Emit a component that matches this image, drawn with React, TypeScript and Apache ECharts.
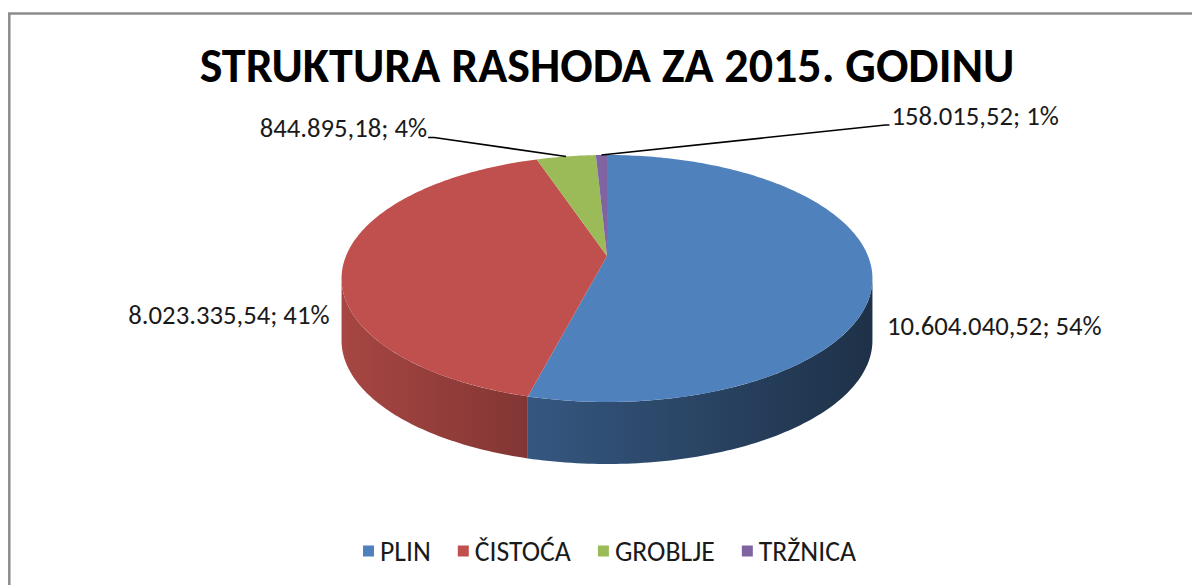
import React, { useEffect, useRef } from "react";
import * as echarts from "echarts";

const categories = ["PLIN", "ČISTOĆA", "GROBLJE", "TRŽNICA"];
const values = [10604040.52, 8023335.54, 844895.18, 158015.52];
const colors = ["#4F81BD", "#C0504D", "#9BBB59", "#8064A2"];
const titleText = "STRUKTURA RASHODA ZA 2015. GODINU";

// leader-line placement for the small slices (offset of elbow from slice edge point)
const leaderOffsets: Record<number, { dx: number; dy: number }> = {
  2: { dx: -132, dy: -19 },
  3: { dx: 284, dy: -30 },
};

const FONT = "Carlito, Calibri, Lato, 'Open Sans', sans-serif";
const LABEL_SIZE = 26.7;

// 3D projection of the pie disc (homography of the unit disc)
const CX = 607;
const R = 261;
const PA = 72.76;
const PB = 256;
const PC = -0.1822;
const DEPTH = 62;

function project(phi: number, dy = 0): [number, number] {
  const u = Math.sin(phi);
  const v = -Math.cos(phi);
  const w = 1 + PC * v;
  return [CX + (R * u) / w, (PA * v + PB) / w + dy];
}

function arc(a: number, b: number, dy = 0): number[][] {
  const n = Math.max(2, Math.ceil((b - a) / (Math.PI / 180)) + 1);
  const pts: number[][] = [];
  for (let k = 0; k < n; k++) {
    const t = a + ((b - a) * k) / (n - 1);
    pts.push(project(t, dy));
  }
  return pts;
}

function shade(hex: string, f: number): string {
  const n = parseInt(hex.slice(1), 16);
  const r = Math.round(((n >> 16) & 255) * f);
  const g = Math.round(((n >> 8) & 255) * f);
  const b = Math.round((n & 255) * f);
  return `rgb(${r},${g},${b})`;
}

function fmtNum(v: number): string {
  const [i, d] = v.toFixed(2).split(".");
  return i.replace(/\B(?=(\d{3})+(?!\d))/g, ".") + "," + d;
}

const total = values.reduce((a, b) => a + b, 0);
const cumStarts = values.map((_, i) => values.slice(0, i).reduce((a, b) => a + b, 0));

const PHI_R = Math.acos(PC); // right silhouette
const PHI_L = 2 * Math.PI - PHI_R; // left silhouette

export default function App() {
  const ref = useRef<HTMLDivElement>(null);

  useEffect(() => {
    if (!ref.current) return;
    const chart = echarts.init(ref.current, null, { renderer: "svg" });
    const leftX = project(PHI_L)[0];
    const rightX = project(PHI_R)[0];

    const renderItem = (params: any, api: any) => {
      const i = params.seriesIndex;
      const val = api.value(0);
      const start = (cumStarts[i] / total) * Math.PI * 2;
      const end = start + (val / total) * Math.PI * 2;
      const color = colors[i];
      const children: any[] = [];
      const center = [CX, PB];

      // side wall (front-facing part only)
      const a = Math.max(start, PHI_R);
      const b = Math.min(end, PHI_L);
      if (b > a) {
        const top = arc(a, b);
        const bottom = arc(a, b, DEPTH).reverse();
        children.push({
          type: "polygon",
          silent: true,
          z2: 1,
          shape: { points: top.concat(bottom) },
          style: {
            fill: new echarts.graphic.LinearGradient(
              leftX,
              0,
              rightX,
              0,
              [
                { offset: 0, color: shade(color, 0.87) },
                { offset: 0.35, color: shade(color, 0.675) },
                { offset: 1, color: shade(color, 0.38) },
              ],
              true
            ),
          },
        });
      }

      // top face
      children.push({
        type: "polygon",
        silent: true,
        z2: 5,
        shape: { points: [center].concat(arc(start, end)) },
        style: { fill: color },
      });

      // label
      const pct = Math.round((val / total) * 100);
      const text = `${fmtNum(val)}; ${pct}%`;
      const mid = (start + end) / 2;
      const lead = leaderOffsets[i];
      if (lead) {
        const p = project(mid);
        const elbow = [p[0] + lead.dx, p[1] + lead.dy];
        const right = lead.dx > 0;
        const tail = [elbow[0] + (right ? 4 : -6), elbow[1]];
        children.push({
          type: "polyline",
          silent: true,
          z2: 10,
          shape: { points: [p, elbow, tail] },
          style: { stroke: "#000", lineWidth: 1.6, fill: null },
        });
        children.push({
          type: "text",
          silent: true,
          z2: 10,
          x: tail[0] + (right ? 2 : -1),
          y: tail[1] - 9,
          style: {
            text,
            fill: "#1a1a1a",
            fontSize: LABEL_SIZE,
            fontFamily: FONT,
            align: right ? "left" : "right",
            verticalAlign: "middle",
          },
        });
      } else {
        const p = project(mid, DEPTH);
        const right = Math.sin(mid) > 0;
        children.push({
          type: "text",
          silent: true,
          z2: 10,
          x: p[0] + (right ? 15 : -15),
          y: p[1] - 7,
          style: {
            text,
            fill: "#1a1a1a",
            fontSize: LABEL_SIZE,
            fontFamily: FONT,
            align: right ? "left" : "right",
            verticalAlign: "middle",
          },
        });
      }

      return { type: "group", children };
    };

    chart.setOption({
      animation: false,
      backgroundColor: "#ffffff",
      color: colors,
      legend: {
        data: categories,
        left: 363,
        top: 537,
        padding: 0,
        icon: "rect",
        itemWidth: 11,
        itemHeight: 11,
        itemGap: 27,
        textStyle: { fontSize: 27.7, fontFamily: FONT, color: "#1a1a1a", padding: [0, 0, 0, 1] },
        selectedMode: false,
      },
      graphic: [
        {
          type: "rect",
          silent: true,
          shape: { x: 9.3, y: 13.5, width: 1400, height: 800 },
          style: { fill: "none", stroke: "#8C8C8C", lineWidth: 2.5 },
        },
        {
          type: "text",
          silent: true,
          x: 607,
          y: 65,
          style: {
            text: titleText,
            fill: "#000",
            fontSize: 48,
            fontWeight: "bold",
            fontFamily: FONT,
            align: "center",
            verticalAlign: "middle",
          },
        },
      ],
      series: categories.map((name, i) => ({
        type: "custom",
        name,
        coordinateSystem: "none",
        itemStyle: { color: colors[i] },
        data: [[values[i]]],
        renderItem,
      })),
    });
    return () => chart.dispose();
  }, []);

  return (
    <div
      ref={ref}
      style={{ position: "absolute", left: 0, top: 0, width: 1192, height: 585 }}
    />
  );
}
